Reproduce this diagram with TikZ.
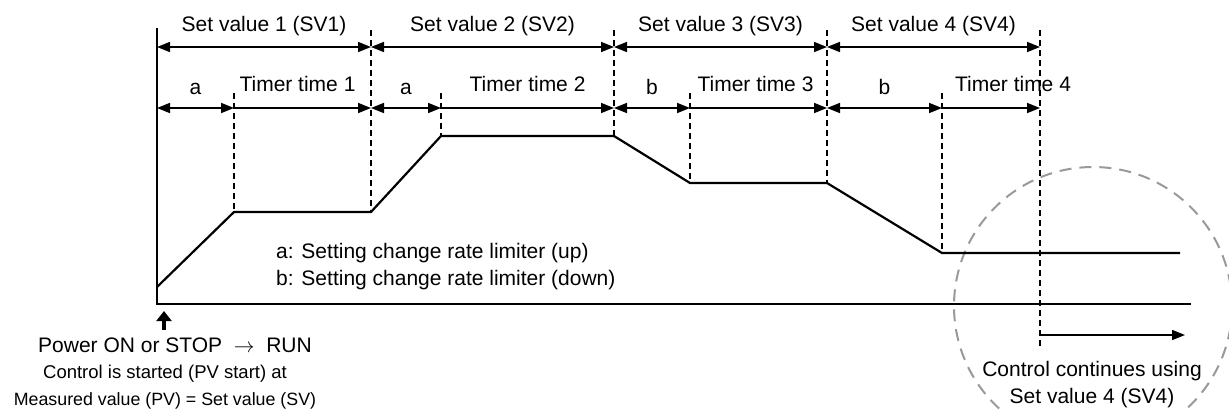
\documentclass[tikz,border=0pt]{standalone}
\usepackage{fontspec}
\setmainfont{Liberation Sans}
\usetikzlibrary{arrows.meta}

\tikzstyle{profile}=[line width=2.2pt, line join=miter]
\tikzstyle{divider}=[dash pattern=on 6pt off 4pt, line width=1.4pt]
\tikzstyle{setspan}=[{Triangle[length=13pt,width=10pt]}-{Triangle[length=13pt,width=10pt]}, line width=1.6pt]
\tikzstyle{timer}=[-{Triangle[length=13pt,width=10pt]}, line width=1.6pt]
\tikzstyle{zoomring}=[gray!80, dash pattern=on 12pt off 8pt, line width=2pt]
\tikzstyle{lbl}=[anchor=base, inner sep=0pt]

\begin{document}
\begin{tikzpicture}[x=1pt, y=-1pt, font=\fontsize{21}{25}\selectfont]
	\useasboundingbox (0,0) rectangle (1229,410);

	% Ring round the end of the program
	\draw[zoomring] (1093,306) circle (139pt);

	% Axes
	\draw[line width=2.2pt] (157,304) -- (157,28);
	\draw[line width=1.8pt] (156,304) -- (1191,304);

	% Division points of the two rows
	\foreach \n/\x in {0/157, 1/371, 2/614, 3/827, 4/1040}{
		\coordinate (sv\n) at (\x,47);
		\coordinate (tm\n) at (\x,108);
	}
	\foreach \n/\x in {1/234, 2/441, 3/690, 4/942}
		\coordinate (lim\n) at (\x,108);

	% Dashed dividers
	\draw[divider] (371,30) -- (371,212);
	\draw[divider] (614,30) -- (614,136);
	\draw[divider] (827,30) -- (827,183);
	\draw[divider] (1040,30) -- (1040,347);
	\draw[divider] (234,93) -- (234,212);
	\draw[divider] (441,93) -- (441,136);
	\draw[divider] (690,93) -- (690,183);
	\draw[divider] (942,93) -- (942,253);

	% Set value profile
	\draw[profile] (157,287) -- (234,212) -- (371,212) -- (441,136) -- (614,136)
		-- (690,183) -- (827,183) -- (942,253) -- (1180,253);

	% Set values
	\draw[setspan] (sv0) -- node[lbl, yshift=16pt] {Set value 1 (SV1)} (sv1);
	\draw[setspan] (sv1) -- node[lbl, yshift=16pt] {Set value 2 (SV2)} (sv2);
	\draw[setspan] (sv2) -- node[lbl, yshift=16pt] {Set value 3 (SV3)} (sv3);
	\draw[setspan] (sv3) -- node[lbl, yshift=16pt] {Set value 4 (SV4)} (sv4);

	% Rate limiter and timer times
	\draw[setspan] (tm0) -- node[lbl, yshift=14pt] {a} (lim1);
	\draw[timer] (lim1) -- node[lbl, yshift=17pt, xshift=-5pt] {Timer time 1} (tm1);
	\draw[setspan] (tm1) -- node[lbl, yshift=14pt] {a} (lim2);
	\draw[timer] (lim2) -- node[lbl, yshift=17pt] {Timer time 2} (tm2);
	\draw[setspan] (tm2) -- node[lbl, yshift=14pt] {b} (lim3);
	\draw[timer] (lim3) -- node[lbl, yshift=17pt, xshift=-3pt] {Timer time 3} (tm3);
	\draw[setspan] (tm3) -- node[lbl, yshift=14pt] {b} (lim4);
	\draw[timer] (lim4) -- node[lbl, yshift=17pt, xshift=22pt] {Timer time 4} (tm4);

	% Legend
	\node[anchor=base west, inner sep=0pt] (leg a) at (276,258) {a: Setting change rate limiter (up)};
	\node[anchor=base west, inner sep=0pt] (leg b) at (276,285) {b: Setting change rate limiter (down)};

	% Start of control
	\coordinate (start) at (164,311);
	\coordinate (start foot) at (164,330);
	\draw[-{Triangle[length=10pt,width=15pt]}, line width=3.4pt] (start foot) -- (start);
	\node[lbl] (power) at (175,352) {Power ON or STOP\ \ $\rightarrow$\ \ RUN};
	\node[lbl, font=\fontsize{18.5}{22}\selectfont] (pv start) at (165,378) {Control is started (PV start) at};
	\node[lbl, font=\fontsize{17.8}{21}\selectfont] (pv cond) at (165,405) {Measured value (PV) = Set value (SV)};

	% Control continues
	\coordinate (cont) at (1041,335);
	\coordinate (cont end) at (1185,335);
	\draw[timer] (cont) -- (cont end);
	\node[lbl] (cont note) at (1092,376) {Control continues using};
	\node[lbl] (cont sv) at (1092,403) {Set value 4 (SV4)};
\end{tikzpicture}
\end{document}
